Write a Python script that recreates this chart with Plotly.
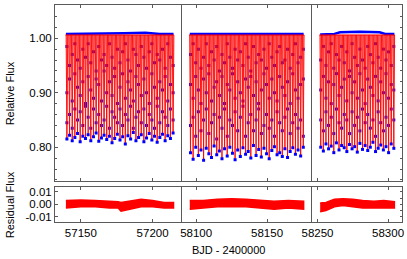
import plotly.graph_objects as go

# ---------------- data ----------------
TOP_LEVEL = 1.006      # out-of-eclipse model level
HALF_WIDTH = 0.55      # eclipse half duration (days)

DIP1_T = [57140.30, 57142.15, 57144.00, 57145.85, 57147.70, 57149.55, 57151.40, 57153.25,
          57155.10, 57156.95, 57158.80, 57160.65, 57162.50, 57164.35, 57166.20, 57168.05,
          57169.90, 57171.75, 57173.60, 57175.45, 57177.30, 57179.15, 57181.00, 57182.85,
          57184.70, 57186.55, 57188.40, 57190.25, 57192.10, 57193.95, 57195.80, 57197.65,
          57199.50, 57201.35, 57203.20, 57205.05, 57206.90, 57208.75, 57210.60, 57212.45,
          57214.30]
DIP1_F = [0.815, 0.822, 0.812, 0.818, 0.825, 0.810, 0.820, 0.816, 0.823, 0.812, 0.819, 0.826,
          0.811, 0.817, 0.822, 0.814, 0.820, 0.808, 0.816, 0.824, 0.813, 0.819, 0.806, 0.821,
          0.815, 0.827, 0.812, 0.818, 0.823, 0.810, 0.817, 0.825, 0.813, 0.820, 0.809, 0.818,
          0.824, 0.812, 0.821, 0.816, 0.826]
OBS1_A = [0.985, 0.95, 0.97, 0.99, 0.96, 0.945, 0.98, 0.965, 0.99, 0.955, 0.975, 0.94, 0.985,
          0.96, 0.97, 0.95, 0.99, 0.965, 0.945, 0.98, 0.955, 0.975, 0.99, 0.96, 0.94, 0.98,
          0.97, 0.95, 0.985, 0.965, 0.945, 0.975, 0.99, 0.955, 0.97, 0.96, 0.98, 0.945, 0.99,
          0.965, 0.95]
OBS1_B = [0.90, 0.925, 0.885, 0.935, 0.91, 0.895, 0.92, 0.88, 0.93, 0.905, 0.89, 0.925, 0.915,
          0.885, 0.94, 0.90, 0.92, 0.895, 0.93, 0.88, 0.91, 0.935, 0.89, 0.92, 0.905, 0.885,
          0.93, 0.915, 0.895, 0.925, 0.90, 0.88, 0.935, 0.91, 0.89, 0.92, 0.905, 0.93, 0.885,
          0.915, 0.90]
OBS1_C = [0.845, 0.86, 0.835, 0.87, 0.85, 0.865, 0.84, 0.875, 0.855, 0.835, 0.87, 0.845, 0.86,
          0.84, 0.85, 0.875, 0.835, 0.865, 0.855, 0.845, 0.87, 0.84, 0.86, 0.85, 0.875, 0.835,
          0.855, 0.865, 0.845, 0.87, 0.84, 0.86, 0.85, 0.835, 0.875, 0.845, 0.865, 0.855, 0.84,
          0.87, 0.85]

DIP2_T = [58096.00, 58097.85, 58099.70, 58101.55, 58103.40, 58105.25, 58107.10, 58108.95,
          58110.80, 58112.65, 58114.50, 58116.35, 58118.20, 58120.05, 58121.90, 58123.75,
          58125.60, 58127.45, 58129.30, 58131.15, 58133.00, 58134.85, 58136.70, 58138.55,
          58140.40, 58142.25, 58144.10, 58145.95, 58147.80, 58149.65, 58151.50, 58153.35,
          58155.20, 58157.05, 58158.90, 58160.75, 58162.60, 58164.45, 58166.30, 58168.15,
          58170.00, 58171.85, 58173.70, 58175.55]
DIP2_F = [0.790, 0.778, 0.800, 0.785, 0.795, 0.776, 0.798, 0.788, 0.781, 0.802, 0.786, 0.793,
          0.779, 0.797, 0.784, 0.800, 0.789, 0.777, 0.795, 0.783, 0.799, 0.787, 0.792, 0.780,
          0.803, 0.785, 0.796, 0.782, 0.798, 0.788, 0.779, 0.794, 0.801, 0.786, 0.790, 0.783,
          0.797, 0.781, 0.792, 0.799, 0.787, 0.795, 0.784, 0.800]
OBS2_A = [0.97, 0.99, 0.955, 0.98, 0.945, 0.965, 0.99, 0.95, 0.975, 0.96, 0.985, 0.94, 0.97,
          0.955, 0.99, 0.965, 0.945, 0.98, 0.96, 0.975, 0.95, 0.99, 0.965, 0.94, 0.985, 0.955,
          0.97, 0.96, 0.98, 0.945, 0.99, 0.965, 0.95, 0.975, 0.985, 0.955, 0.96, 0.98, 0.945,
          0.97, 0.99, 0.955, 0.965, 0.98]
OBS2_B = [0.915, 0.89, 0.93, 0.905, 0.88, 0.925, 0.90, 0.935, 0.885, 0.91, 0.92, 0.895, 0.93,
          0.88, 0.915, 0.905, 0.935, 0.89, 0.92, 0.90, 0.885, 0.925, 0.91, 0.93, 0.895, 0.92,
          0.88, 0.905, 0.935, 0.915, 0.89, 0.925, 0.90, 0.885, 0.93, 0.91, 0.895, 0.92, 0.88,
          0.935, 0.905, 0.89, 0.915, 0.925]
OBS2_C = [0.84, 0.855, 0.82, 0.865, 0.83, 0.85, 0.87, 0.825, 0.845, 0.86, 0.815, 0.855, 0.835,
          0.87, 0.82, 0.85, 0.84, 0.865, 0.83, 0.855, 0.875, 0.82, 0.845, 0.86, 0.83, 0.85,
          0.87, 0.825, 0.84, 0.86, 0.835, 0.85, 0.82, 0.865, 0.845, 0.83, 0.855, 0.87, 0.825,
          0.845, 0.86, 0.835, 0.85, 0.82]

DIP3_T = [58252.30, 58254.15, 58256.00, 58257.85, 58259.70, 58261.55, 58263.40, 58265.25,
          58267.10, 58268.95, 58270.80, 58272.65, 58274.50, 58276.35, 58278.20, 58280.05,
          58281.90, 58283.75, 58285.60, 58287.45, 58289.30, 58291.15, 58293.00, 58294.85,
          58296.70, 58298.55, 58300.40, 58302.25, 58304.10]
DIP3_F = [0.800, 0.793, 0.806, 0.797, 0.802, 0.790, 0.808, 0.795, 0.803, 0.799, 0.792, 0.805,
          0.797, 0.801, 0.791, 0.807, 0.796, 0.803, 0.794, 0.800, 0.809, 0.792, 0.798, 0.804,
          0.795, 0.801, 0.790, 0.806, 0.798]
OBS3_A = [0.96, 0.985, 0.95, 0.975, 0.99, 0.945, 0.97, 0.96, 0.985, 0.955, 0.975, 0.94, 0.99,
          0.965, 0.95, 0.98, 0.96, 0.945, 0.985, 0.97, 0.955, 0.99, 0.965, 0.945, 0.98, 0.96,
          0.975, 0.95, 0.985]
OBS3_B = [0.905, 0.93, 0.89, 0.92, 0.88, 0.915, 0.935, 0.895, 0.91, 0.925, 0.885, 0.93, 0.90,
          0.92, 0.89, 0.935, 0.905, 0.88, 0.925, 0.91, 0.895, 0.93, 0.885, 0.92, 0.90, 0.935,
          0.89, 0.915, 0.905]
OBS3_C = [0.85, 0.83, 0.865, 0.84, 0.855, 0.825, 0.87, 0.845, 0.835, 0.86, 0.85, 0.825, 0.865,
          0.84, 0.855, 0.83, 0.87, 0.845, 0.86, 0.835, 0.85, 0.82, 0.865, 0.845, 0.83, 0.855,
          0.84, 0.87, 0.85]

# out-of-eclipse observed level (upper envelope of the blue band)
OOE1_T = [57139.6, 57160.0, 57180.0, 57195.0, 57205.0, 57214.6]
OOE1_F = [1.008, 1.008, 1.009, 1.010, 1.008, 1.008]
OOE2_T = [58095.5, 58120.0, 58140.0, 58160.0, 58175.8]
OOE2_F = [1.008, 1.008, 1.009, 1.008, 1.008]
OOE3_T = [58251.9, 58262.0, 58266.0, 58280.0, 58294.0, 58298.0, 58304.5]
OOE3_F = [1.007, 1.008, 1.011, 1.012, 1.011, 1.008, 1.008]

# residual band envelopes
RES1_T = [57139.6, 57150, 57160, 57170, 57176, 57178, 57185, 57192, 57200, 57208, 57214.6]
RES1_HI = [0.003, 0.0035, 0.003, 0.0025, 0.002, 0.0015, 0.003, 0.004, 0.003, 0.0015, 0.0015]
RES1_LO = [-0.003, -0.002, -0.002, -0.003, -0.003, -0.0055, -0.004, -0.002, -0.002, -0.003, -0.003]
RES2_T = [58095.5, 58105, 58115, 58125, 58135, 58145, 58155, 58165, 58175.8]
RES2_HI = [0.003, 0.003, 0.004, 0.0045, 0.004, 0.003, 0.0025, 0.003, 0.0025]
RES2_LO = [-0.004, -0.003, -0.002, -0.002, -0.002, -0.003, -0.004, -0.003, -0.004]
RES3_T = [58251.9, 58256, 58262, 58268, 58275, 58282, 58290, 58297, 58304.5]
RES3_HI = [0.001, 0.0015, 0.004, 0.0045, 0.004, 0.003, 0.0025, 0.003, 0.002]
RES3_LO = [-0.006, -0.005, -0.002, -0.001, -0.002, -0.003, -0.003, -0.003, -0.003]

X_RANGES = [[57132, 57220], [58089.5, 58181], [58245.4, 58309.9]]
X_TICKS = [[57150, 57200], [58100, 58150], [58250, 58300]]
Y_RANGE_TOP = [0.738, 1.061]
Y_RANGE_RES = [-0.0142, 0.0138]

# ---------------- figure ----------------
RED = "rgb(255,0,0)"
PINK = "rgba(255,40,40,0.55)"
BLUE = "rgb(0,0,255)"
FRAME = "#5a5a5a"
FONT = "Liberation Sans, Arial, sans-serif"

segments = [
    (DIP1_T, DIP1_F, OBS1_A, OBS1_B, OBS1_C, OOE1_T, OOE1_F, RES1_T, RES1_HI, RES1_LO),
    (DIP2_T, DIP2_F, OBS2_A, OBS2_B, OBS2_C, OOE2_T, OOE2_F, RES2_T, RES2_HI, RES2_LO),
    (DIP3_T, DIP3_F, OBS3_A, OBS3_B, OBS3_C, OOE3_T, OOE3_F, RES3_T, RES3_HI, RES3_LO),
]

fig = go.Figure()
for k, (dt, df, oa, ob, oc, ot, of, rt, rhi, rlo) in enumerate(segments):
    xa_top = "x" if k == 0 else f"x{k+1}"
    ya_top = "y" if k == 0 else f"y{k+1}"
    xa_bot = f"x{k+4}"
    ya_bot = f"y{k+4}"
    # observed out-of-eclipse band
    fig.add_trace(go.Scatter(x=ot, y=of, mode="lines", line=dict(color=BLUE, width=2.5),
                             xaxis=xa_top, yaxis=ya_top, showlegend=False, hoverinfo="skip"))
    # observed in-eclipse points (under the model)
    ox, oy = [], []
    for t, a, b, c in zip(dt, oa, ob, oc):
        ox += [t, t, t]
        oy += [a, b, c]
    fig.add_trace(go.Scatter(x=ox, y=oy, mode="markers",
                             marker=dict(color=BLUE, size=3, symbol="square", line=dict(width=0)),
                             xaxis=xa_top, yaxis=ya_top, showlegend=False, hoverinfo="skip"))
    # model: each eclipse as a filled V
    mx, my = [], []
    for t, f in zip(dt, df):
        mx += [t - HALF_WIDTH, t, t + HALF_WIDTH, None]
        my += [TOP_LEVEL, f, TOP_LEVEL, None]
    fig.add_trace(go.Scatter(x=mx, y=my, mode="lines", fill="toself", fillcolor=PINK,
                             line=dict(color=RED, width=0.9),
                             xaxis=xa_top, yaxis=ya_top, showlegend=False, hoverinfo="skip"))
    fig.add_trace(go.Scatter(x=[dt[0] - 1.0, dt[-1] + 0.6], y=[TOP_LEVEL, TOP_LEVEL],
                             mode="lines", line=dict(color=RED, width=1.0),
                             xaxis=xa_top, yaxis=ya_top, showlegend=False, hoverinfo="skip"))
    # observed minima
    fig.add_trace(go.Scatter(x=dt, y=df, mode="markers",
                             marker=dict(color=BLUE, size=3, symbol="square", line=dict(width=0)),
                             xaxis=xa_top, yaxis=ya_top, showlegend=False, hoverinfo="skip"))
    # residual band
    fig.add_trace(go.Scatter(x=rt + rt[::-1], y=rhi + rlo[::-1], mode="lines",
                             fill="toself", fillcolor=RED, line=dict(color=RED, width=1.5),
                             xaxis=xa_bot, yaxis=ya_bot, showlegend=False, hoverinfo="skip"))

domains = [[0.0, 0.3639], [0.3639, 0.7378], [0.7378, 1.0]]
TOP_DOM = [0.189, 1.0]
BOT_DOM = [0.0, 0.161]
tickfont = dict(family=FONT, size=11.5, color="black")

layout = dict(
    width=407, height=259,
    margin=dict(l=55, r=3, t=5, b=37),
    paper_bgcolor="white", plot_bgcolor="white",
    font=dict(family=FONT, size=11, color="black"),
    showlegend=False,
)
for k in range(3):
    common_x = dict(domain=domains[k], range=X_RANGES[k], tickvals=X_TICKS[k],
                    ticktext=[str(v) for v in X_TICKS[k]],
                    ticks="inside", ticklen=3, tickcolor=FRAME, showline=True,
                    linecolor=FRAME, linewidth=1, mirror="ticks", showgrid=False,
                    zeroline=False, tickfont=tickfont)
    top_name = "xaxis" if k == 0 else f"xaxis{k+1}"
    layout[top_name] = dict(common_x, anchor="y" if k == 0 else f"y{k+1}", showticklabels=False)
    layout[f"xaxis{k+4}"] = dict(common_x, anchor=f"y{k+4}", showticklabels=True)

    ytop_name = "yaxis" if k == 0 else f"yaxis{k+1}"
    ytop = dict(domain=TOP_DOM, range=Y_RANGE_TOP, anchor="x" if k == 0 else f"x{k+1}",
                showline=True, linecolor=FRAME, linewidth=1,
                showgrid=False, zeroline=False, tickfont=tickfont)
    ybot = dict(domain=BOT_DOM, range=Y_RANGE_RES, anchor=f"x{k+4}",
                showline=True, linecolor=FRAME, linewidth=1,
                showgrid=False, zeroline=False, tickfont=tickfont)
    if k == 0:
        ytop.update(mirror=True, tickvals=[0.8, 0.9, 1.0], ticktext=["0.80", "0.90", "1.00"],
                    ticks="inside", ticklen=3, tickcolor=FRAME,
                    minor=dict(dtick=0.02, ticks="inside", ticklen=2, tickcolor=FRAME))
        ybot.update(mirror=True, tickvals=[-0.01, 0.0, 0.01], ticktext=["-0.01", "0.00", "0.01"],
                    ticks="inside", ticklen=3, tickcolor=FRAME)
    elif k == 2:
        ytop.update(side="right", showticklabels=False, ticks="inside", ticklen=2,
                    tickcolor=FRAME, dtick=0.02, tick0=0.8)
        ybot.update(side="right", showticklabels=False, ticks="inside", ticklen=2,
                    tickcolor=FRAME, dtick=0.005, tick0=0.0)
    else:
        ytop.update(side="right", showticklabels=False, ticks="")
        ybot.update(side="right", showticklabels=False, ticks="")
    layout[ytop_name] = ytop
    layout[f"yaxis{k+4}"] = ybot

fig.update_layout(**layout)

fig.add_annotation(text="Relative Flux", xref="paper", yref="paper", x=-0.129, y=0.594,
                   textangle=-90, showarrow=False, xanchor="center", yanchor="middle",
                   font=dict(family=FONT, size=11, color="black"))
fig.add_annotation(text="Residual Flux", xref="paper", yref="paper", x=-0.129, y=0.078,
                   textangle=-90, showarrow=False, xanchor="center", yanchor="middle",
                   font=dict(family=FONT, size=11, color="black"))
fig.add_annotation(text="BJD - 2400000", xref="paper", yref="paper", x=0.5, y=-0.129,
                   showarrow=False, xanchor="center", yanchor="middle",
                   font=dict(family=FONT, size=11, color="black"))

fig.write_html("out.html", config={"displayModeBar": False},
               post_script="document.body.style.margin='0';document.body.style.overflow='hidden';")
